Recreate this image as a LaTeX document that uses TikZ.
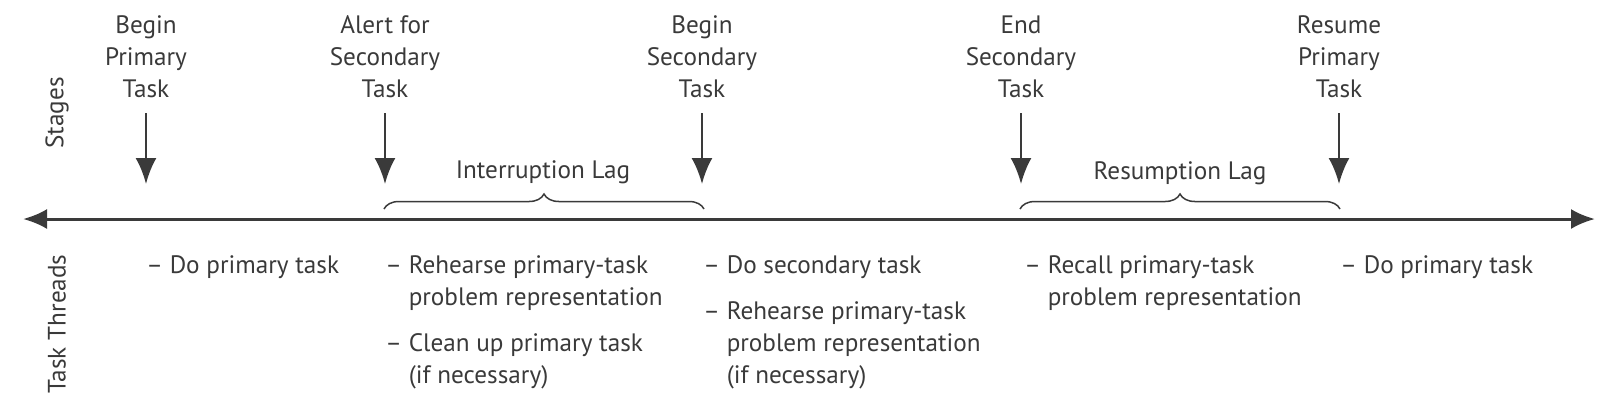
\documentclass[tikz,border=0pt]{standalone}
\usepackage{fontspec}
\setmainfont{PT Sans}
\usetikzlibrary{arrows.meta,decorations.pathreplacing}
\definecolor{ink}{RGB}{58,58,58}
\tikzset{
	lbl/.style={font=\fontsize{12.6}{16}\selectfont, text=ink, inner sep=0pt},
	stagelbl/.style={lbl, align=center, anchor=base},
	threadlbl/.style={lbl, align=left, anchor=base west},
	sidelbl/.style={lbl, rotate=90},
	stagearrow/.style={draw=ink, line width=1.3pt, -{Latex[length=13pt,width=10.5pt]}},
	timeline/.style={draw=ink, line width=1.5pt, {Latex[length=12pt,width=10pt]}-{Latex[length=12pt,width=10pt]}},
	lagbrace/.style={draw=ink, line width=0.75pt, decorate, decoration={brace, amplitude=7.5pt, aspect=0.5}}
}
\newcommand{\ind}{\hphantom{– }}
\begin{document}
\begin{tikzpicture}[x=0.5pt, y=-0.5pt]
			%%%%% START %%%%%
			\useasboundingbox (0,0) rectangle (1605,404);
			
			\node[sidelbl] (stages) at (57,113) {Stages};
			\node[sidelbl] (threads) at (57,324) {Task Threads};
			
			\coordinate (lend) at (23,219);
			\coordinate (rend) at (1595,219);
			\draw[timeline] (lend) -- (rend);
			
			% multi-line nodes sit on the baseline of their last line
			\node[stagelbl] (begP) at (146,97) {Begin\\Primary\\Task};
			\node[stagelbl] (alert) at (385,97) {Alert for\\Secondary\\Task};
			\node[stagelbl] (begS) at (702,97) {Begin\\Secondary\\Task};
			\node[stagelbl] (endS) at (1021,97) {End\\Secondary\\Task};
			\node[stagelbl] (resP) at (1339,97) {Resume\\Primary\\Task};
			
			\coordinate (tipP) at (146,184);
			\coordinate (tipA) at (385,184);
			\coordinate (tipS) at (702,184);
			\coordinate (tipE) at (1021,184);
			\coordinate (tipR) at (1339,184);
			\draw[stagearrow] ([yshift=-8pt]begP.base) -- (tipP);
			\draw[stagearrow] ([yshift=-8pt]alert.base) -- (tipA);
			\draw[stagearrow] ([yshift=-8pt]begS.base) -- (tipS);
			\draw[stagearrow] ([yshift=-8pt]endS.base) -- (tipE);
			\draw[stagearrow] ([yshift=-8pt]resP.base) -- (tipR);
			
			\coordinate (ilagl) at (384,209);
			\coordinate (ilagr) at (704,209);
			\draw[lagbrace] (ilagl) -- (ilagr);
			\node[lbl, anchor=base] (ilag) at (543,178) {Interruption Lag};
			
			\coordinate (rlagl) at (1020,209);
			\coordinate (rlagr) at (1340,209);
			\draw[lagbrace] (rlagl) -- (rlagr);
			\node[lbl, anchor=base] (rlag) at (1180,179) {Resumption Lag};
			
			\node[threadlbl] (doP) at (146,273) {– Do primary task};
			\node[threadlbl] (rehA) at (385,305) {– Rehearse primary-task\\\ind problem representation};
			\node[threadlbl] (clean) at (385,383) {– Clean up primary task\\\ind (if necessary)};
			\node[threadlbl] (doS) at (703,273) {– Do secondary task};
			\node[threadlbl] (rehS) at (703,383) {– Rehearse primary-task\\\ind problem representation\\\ind (if necessary)};
			\node[threadlbl] (recall) at (1024,305) {– Recall primary-task\\\ind problem representation};
			\node[threadlbl] (doR) at (1340,273) {– Do primary task};
			%%%%% END %%%%%
\end{tikzpicture}
\end{document}
